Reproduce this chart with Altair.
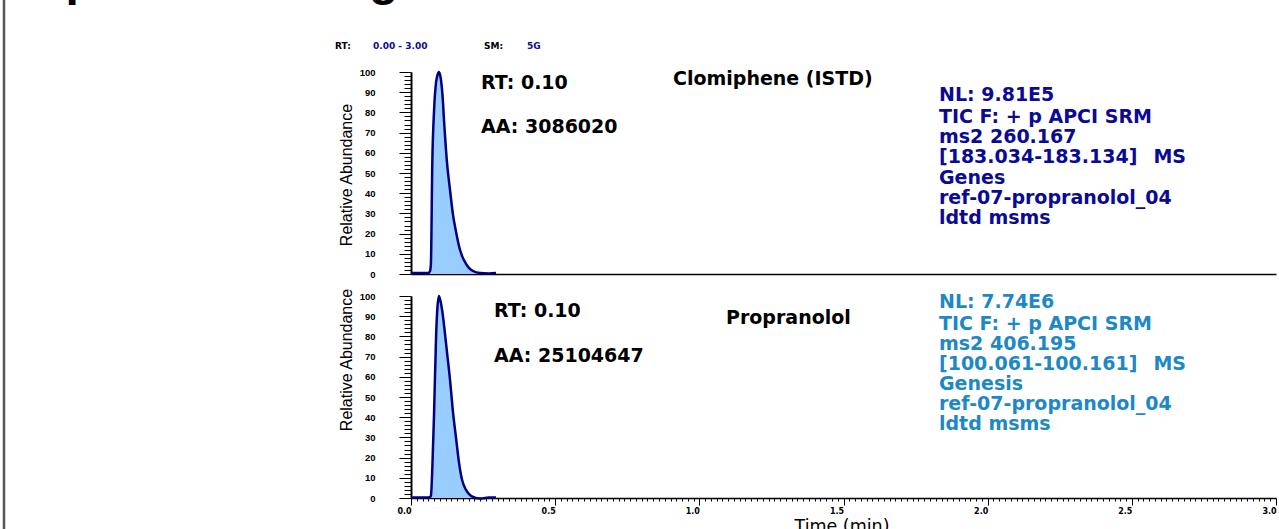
import altair as alt
import pandas as pd

# ---------------- data ----------------
time_min = [0.0, 0.06, 0.066, 0.069, 0.074, 0.080, 0.087, 0.091, 0.097, 0.103, 0.109, 0.115,
            0.125, 0.135, 0.146, 0.156, 0.167, 0.177, 0.191, 0.201, 0.215, 0.24, 0.27, 0.295]
clomiphene = [0.5, 0.5, 1.5, 5, 56, 81, 95, 98, 100, 97, 89, 75,
              55, 42, 29, 21, 13.5, 9, 5, 3, 1.5, 0.5, 0.3, 0.5]
propranolol = [0.3, 0.3, 0.5, 1, 15, 42, 80, 93, 100, 97, 92, 85,
               72, 59, 42, 30, 17, 9, 4, 2, 0.5, -0.3, 0.2, 0.3]

top_name = "Clomiphene (ISTD)"
bottom_name = "Propranolol"
top_rt = "RT: 0.10"
top_aa = "AA: 3086020"
bottom_rt = "RT: 0.10"
bottom_aa = "AA: 25104647"
top_info = ["NL: 9.81E5", "TIC F: + p APCI SRM", "ms2 260.167",
            "[183.034-183.134]\u2002\u00a0MS", "Genes", "ref-07-propranolol_04", "ldtd msms"]
bottom_info = ["NL: 7.74E6", "TIC F: + p APCI SRM", "ms2 406.195",
               "[100.061-100.161]\u2002\u00a0MS", "Genesis", "ref-07-propranolol_04", "ldtd msms"]
y_tick_values = list(range(0, 101, 2))
x_tick_values = [round(i * 0.02, 2) for i in range(151)]

# ---------------- styling ----------------
W, H = 1279, 529
NAVY = "#000080"
FILL = "#99CCFF"
INFO_TOP = "#0A0A96"
INFO_BOT = "#1E88C6"
BIG = "DejaVu Sans"
ARIAL = "Liberation Sans"

trace = pd.DataFrame({"t": time_min, "top": clomiphene, "bottom": propranolol})
one = pd.DataFrame({"k": [0]})

xs = alt.Scale(domain=[0, 3], range=[411, 1276], nice=False, zero=False)
ys_top = alt.Scale(domain=[0, 100], range=[274, 72], nice=False)
ys_bot = alt.Scale(domain=[0, 100], range=[498, 296], nice=False)


def y_axis():
    return alt.Axis(
        orient="left", offset=-411, values=y_tick_values, title=None, grid=False,
        labelExpr="datum.value % 10 === 0 ? datum.label : ''",
        tickSize={"condition": {"test": "datum.value % 10 === 0", "value": 12}, "value": 7},
        labelOverlap=False, labelFlush=False, labelPadding=24,
        labelFont=ARIAL, labelFontSize=9.5, labelFontWeight="bold", labelColor="black",
        domainColor="black", domainWidth=2, tickColor="black", tickWidth=1,
    )


top_x_axis = alt.Axis(orient="bottom", offset=-(H - 274), ticks=False, labels=False,
                      title=None, grid=False, domainColor="black", domainWidth=1.5)
bottom_x_axis = alt.Axis(
    orient="bottom", offset=-(H - 498), values=x_tick_values, title=None, grid=False,
    labelExpr="abs(datum.value*2 - round(datum.value*2)) < 1e-6 ? format(datum.value, '.1f') : ''",
    tickSize={"condition": {"test": "abs(datum.value*2 - round(datum.value*2)) < 1e-6", "value": 7},
              "value": 3},
    labelOverlap=False, labelFlush=False, labelPadding=2, labelOffset=-7,
    labelFont=BIG, labelFontSize=8, labelFontWeight="bold", labelColor="black",
    domainColor="black", domainWidth=1.5, tickColor="black", tickWidth=1,
)

top_area = alt.Chart(trace).mark_area(color=FILL, interpolate="monotone").encode(
    x=alt.X("t:Q", scale=xs, axis=top_x_axis),
    y=alt.Y("top:Q", scale=ys_top, axis=y_axis()),
)
top_line = alt.Chart(trace).mark_line(color=NAVY, strokeWidth=2.5, interpolate="monotone").encode(
    x=alt.X("t:Q", scale=xs, axis=None),
    y=alt.Y("top:Q", scale=ys_top, axis=None),
)
bot_area = alt.Chart(trace).mark_area(color=FILL, interpolate="monotone").encode(
    x=alt.X("t:Q", scale=xs, axis=bottom_x_axis),
    y=alt.Y("bottom:Q", scale=ys_bot, axis=y_axis()),
)
bot_line = alt.Chart(trace).mark_line(color=NAVY, strokeWidth=2.5, interpolate="monotone").encode(
    x=alt.X("t:Q", scale=xs, axis=None),
    y=alt.Y("bottom:Q", scale=ys_bot, axis=None),
)


def label(text, x, y, size, color="black", font=BIG, weight="bold", align="left",
          baseline="alphabetic", angle=None, line_height=None):
    props = dict(text=text, fontSize=size, font=font, fontWeight=weight, color=color,
                 align=align, baseline=baseline)
    if angle is not None:
        props["angle"] = angle
    if line_height is not None:
        props["lineHeight"] = line_height
    return alt.Chart(one).mark_text(**props).encode(x=alt.value(x), y=alt.value(y))


texts = [
    # partially visible page title (descenders only, as in the reference crop)
    label("p", 65.5, -5.5, 48, font=ARIAL),
    label("g", 369, -5.5, 48, font=ARIAL),
    # header
    label("RT:", 335, 49.2, 9),
    label("0.00 - 3.00", 373, 49.2, 9, color=INFO_TOP),
    label("SM:", 484, 49.2, 9),
    label("5G", 527, 49.2, 9, color=INFO_TOP),
    # y titles
    label("Relative Abundance", 346.5, 175, 16, font=ARIAL, weight="normal",
          align="center", baseline="middle", angle=270),
    label("Relative Abundance", 346.5, 360, 16, font=ARIAL, weight="normal",
          align="center", baseline="middle", angle=270),
    # top panel annotations
    label(top_rt, 481, 89, 19),
    label(top_aa, 481, 133, 19),
    label(top_name, 673, 85, 19),
    label(top_info[0], 939, 100.6, 19, color=INFO_TOP),
    label(top_info[1:], 939, 123.4, 19, color=INFO_TOP, line_height=20.05),
    # bottom panel annotations
    label(bottom_rt, 494, 316.5, 19),
    label(bottom_aa, 494, 362, 19),
    label(bottom_name, 726, 324, 19),
    label(bottom_info[0], 939, 307.7, 19, color=INFO_BOT),
    label(bottom_info[1:], 939, 330.2, 19, color=INFO_BOT, line_height=20.0),
    # x title
    label("Time (min)", 842, 532, 17.5, weight="normal", align="center"),
]

border = alt.Chart(one).mark_rule(color="#555555", strokeWidth=2.5).encode(
    x=alt.value(4), y=alt.value(0), y2=alt.value(H)
)

chart = alt.layer(top_area, top_line, bot_area, bot_line, border, *texts).resolve_scale(
    x="independent", y="independent"
).resolve_axis(x="independent", y="independent").properties(
    width=W, height=H, padding=0, autosize=alt.AutoSizeParams(type="none"),
    background="white",
).configure_view(stroke=None)

chart.save("out.html", embed_options={"renderer": "svg", "actions": False})
